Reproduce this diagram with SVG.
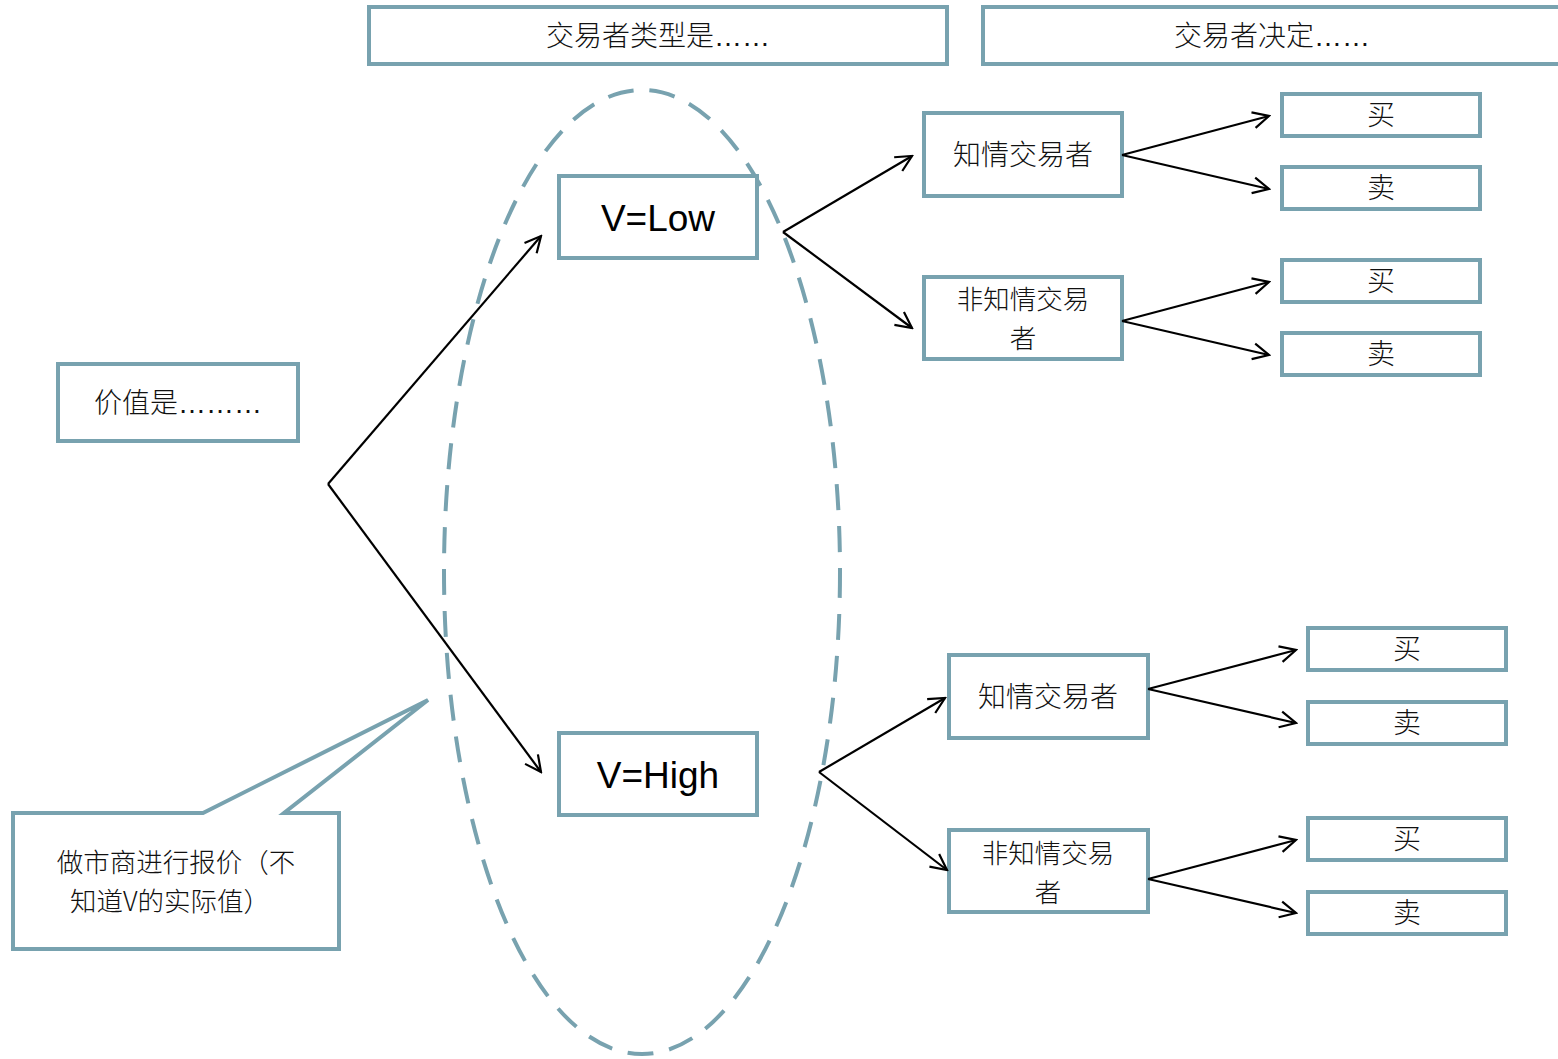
<svg xmlns="http://www.w3.org/2000/svg" width="1558" height="1059" viewBox="0 0 1558 1059">
  <style>
    .box { fill: #ffffff; stroke: #78a2af; stroke-width: 4; }
    .cjk { font-family: "Noto Sans CJK SC", "Liberation Sans", sans-serif; font-size: 28px; font-weight: 300; fill: #111; text-anchor: middle; }
    .two { font-size: 26.5px; }
    .dots { font-family: "Liberation Sans", sans-serif; font-weight: 400; }
    .lat { font-family: "Liberation Sans", sans-serif; font-size: 37px; fill: #000; text-anchor: middle; }
    .edge { fill: none; stroke: #000; stroke-width: 2.2; marker-end: url(#arrow); }
  </style>
  <defs>
    <marker id="arrow" viewBox="0 0 20 20" refX="18" refY="10" markerWidth="20" markerHeight="20" markerUnits="userSpaceOnUse" orient="auto">
      <path d="M2 2 L18 10 L2 18" fill="none" stroke="#000" stroke-width="2.2"/>
    </marker>
  </defs>
  <rect width="1558" height="1059" fill="#ffffff"/>

  <!-- dashed ellipse grouping the trader types -->
  <ellipse cx="642" cy="572" rx="198" ry="482" fill="none" stroke="#78a2af" stroke-width="4" stroke-dasharray="26 16"/>

  <!-- column headers -->
  <g id="header-type"><rect class="box" x="369" y="7" width="578" height="57"/><text class="cjk" x="658" y="46">交易者类型是<tspan class="dots">……</tspan></text></g>
  <g id="header-decision"><rect class="box" x="983" y="7" width="590" height="57"/><text class="cjk" x="1272" y="46">交易者决定<tspan class="dots">……</tspan></text></g>

  <g id="value"><rect class="box" x="58" y="364" width="240" height="77"/><text class="cjk" x="178" y="413">价值是<tspan class="dots">………</tspan></text></g>

  <g id="v-low"><rect class="box" x="559" y="176" width="198" height="82"/><text class="lat" x="658" y="231">V=Low</text></g>
  <g id="v-high"><rect class="box" x="559" y="733" width="198" height="82"/><text class="lat" x="658" y="788">V=High</text></g>

  <!-- trader types -->
  <g id="informed-low"><rect class="box" x="924" y="113" width="198" height="83"/><text class="cjk" x="1023" y="165">知情交易者</text></g>
  <g id="uninformed-low"><rect class="box" x="924" y="277" width="198" height="82"/><text class="cjk two" x="1023" y="309">非知情交易<tspan x="1023" dy="39">者</tspan></text></g>
  <g id="informed-high"><rect class="box" x="949" y="655" width="199" height="83"/><text class="cjk" x="1048" y="707">知情交易者</text></g>
  <g id="uninformed-high"><rect class="box" x="949" y="830" width="199" height="82"/><text class="cjk two" x="1048" y="863">非知情交易<tspan x="1048" dy="39">者</tspan></text></g>

  <!-- decisions -->
  <g id="buy-1"><rect class="box" x="1282" y="94" width="198" height="42"/><text class="cjk" x="1381" y="125">买</text></g>
  <g id="sell-1"><rect class="box" x="1282" y="167" width="198" height="42"/><text class="cjk" x="1381" y="198">卖</text></g>
  <g id="buy-2"><rect class="box" x="1282" y="260" width="198" height="42"/><text class="cjk" x="1381" y="291">买</text></g>
  <g id="sell-2"><rect class="box" x="1282" y="333" width="198" height="42"/><text class="cjk" x="1381" y="364">卖</text></g>
  <g id="buy-3"><rect class="box" x="1308" y="628" width="198" height="42"/><text class="cjk" x="1407" y="659">买</text></g>
  <g id="sell-3"><rect class="box" x="1308" y="702" width="198" height="42"/><text class="cjk" x="1407" y="733">卖</text></g>
  <g id="buy-4"><rect class="box" x="1308" y="818" width="198" height="42"/><text class="cjk" x="1407" y="849">买</text></g>
  <g id="sell-4"><rect class="box" x="1308" y="892" width="198" height="42"/><text class="cjk" x="1407" y="923">卖</text></g>

  <!-- callout -->
  <g id="market-maker">
    <path class="box" stroke-linejoin="miter" d="M13 813 L203 813 L428 700 L284 813 L339 813 L339 949 L13 949 Z"/>
    <text class="cjk two" x="176" y="872">做市商进行报价（不<tspan x="170" dy="39">知道V的实际值）</tspan></text>
  </g>

  <g id="connectors">
    <path class="edge" d="M328 484 L541 236"/>
    <path class="edge" d="M328 484 L541 772"/>
    <path class="edge" d="M783 232 L912 156"/>
    <path class="edge" d="M783 232 L912 328"/>
    <path class="edge" d="M819 772 L945 698"/>
    <path class="edge" d="M819 772 L947 870"/>
    <path class="edge" d="M1122 155 L1269 116"/>
    <path class="edge" d="M1122 155 L1269 189"/>
    <path class="edge" d="M1122 321 L1269 282"/>
    <path class="edge" d="M1122 321 L1269 355"/>
    <path class="edge" d="M1148 689 L1296 650"/>
    <path class="edge" d="M1148 689 L1296 723"/>
    <path class="edge" d="M1148 879 L1296 840"/>
    <path class="edge" d="M1148 879 L1296 913"/>
  </g>
</svg>
